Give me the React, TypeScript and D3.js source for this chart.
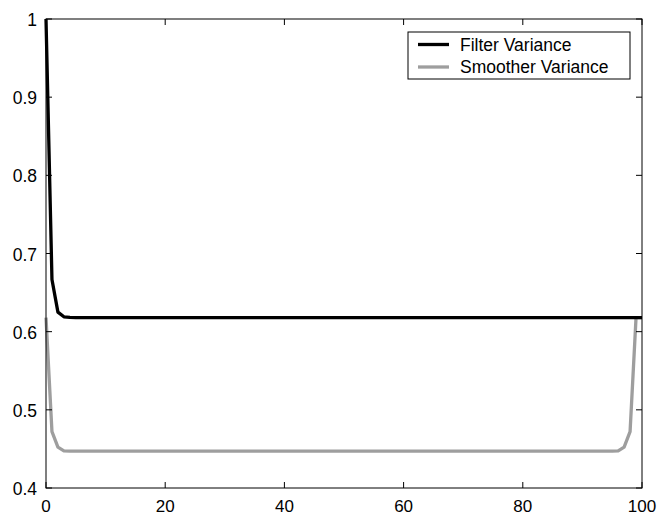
import React from "react";
import * as d3 from "d3";

const xTicks = [0, 20, 40, 60, 80, 100];
const yTicks = [0.4, 0.5, 0.6, 0.7, 0.8, 0.9, 1];
const yTickLabels = ["0.4", "0.5", "0.6", "0.7", "0.8", "0.9", "1"];
const seriesNames = ["Filter Variance", "Smoother Variance"];

const filterVariance = [
  1, 0.6667, 0.625, 0.619, 0.6182, 0.618, 0.618, 0.618, 0.618, 0.618,
  0.618, 0.618, 0.618, 0.618, 0.618, 0.618, 0.618, 0.618, 0.618, 0.618,
  0.618, 0.618, 0.618, 0.618, 0.618, 0.618, 0.618, 0.618, 0.618, 0.618,
  0.618, 0.618, 0.618, 0.618, 0.618, 0.618, 0.618, 0.618, 0.618, 0.618,
  0.618, 0.618, 0.618, 0.618, 0.618, 0.618, 0.618, 0.618, 0.618, 0.618,
  0.618, 0.618, 0.618, 0.618, 0.618, 0.618, 0.618, 0.618, 0.618, 0.618,
  0.618, 0.618, 0.618, 0.618, 0.618, 0.618, 0.618, 0.618, 0.618, 0.618,
  0.618, 0.618, 0.618, 0.618, 0.618, 0.618, 0.618, 0.618, 0.618, 0.618,
  0.618, 0.618, 0.618, 0.618, 0.618, 0.618, 0.618, 0.618, 0.618, 0.618,
  0.618, 0.618, 0.618, 0.618, 0.618, 0.618, 0.618, 0.618, 0.618, 0.618,
  0.618,
];

const smootherVariance = [
  0.618, 0.4722, 0.4524, 0.4476, 0.4473, 0.4472, 0.4472, 0.4472, 0.4472, 0.4472,
  0.4472, 0.4472, 0.4472, 0.4472, 0.4472, 0.4472, 0.4472, 0.4472, 0.4472, 0.4472,
  0.4472, 0.4472, 0.4472, 0.4472, 0.4472, 0.4472, 0.4472, 0.4472, 0.4472, 0.4472,
  0.4472, 0.4472, 0.4472, 0.4472, 0.4472, 0.4472, 0.4472, 0.4472, 0.4472, 0.4472,
  0.4472, 0.4472, 0.4472, 0.4472, 0.4472, 0.4472, 0.4472, 0.4472, 0.4472, 0.4472,
  0.4472, 0.4472, 0.4472, 0.4472, 0.4472, 0.4472, 0.4472, 0.4472, 0.4472, 0.4472,
  0.4472, 0.4472, 0.4472, 0.4472, 0.4472, 0.4472, 0.4472, 0.4472, 0.4472, 0.4472,
  0.4472, 0.4472, 0.4472, 0.4472, 0.4472, 0.4472, 0.4472, 0.4472, 0.4472, 0.4472,
  0.4472, 0.4472, 0.4472, 0.4472, 0.4472, 0.4472, 0.4472, 0.4472, 0.4472, 0.4472,
  0.4472, 0.4472, 0.4472, 0.4472, 0.4472, 0.4473, 0.4476, 0.4524, 0.4722, 0.618,
  0.618,
];

const W = 658;
const H = 516;
const M = { left: 46, right: 16, top: 19, bottom: 28 };
const FONT = "'Liberation Sans', Arial, Helvetica, sans-serif";

export default function App() {
  const x = d3.scaleLinear().domain([0, 100]).range([M.left, W - M.right]);
  const y = d3.scaleLinear().domain([0.4, 1]).range([H - M.bottom, M.top]);
  const line = d3
    .line<number>()
    .x((_, i) => x(i))
    .y((d) => y(d));

  const x0 = x(0), x1 = x(100), y0 = y(0.4), y1 = y(1);
  const tl = 6;
  const colors = ["#000000", "#9e9e9e"];

  return (
    <svg
      width={W}
      height={H}
      style={{ position: "absolute", left: 0, top: 0, background: "#fff" }}
      fontFamily={FONT}
    >
      <rect x={0} y={0} width={W} height={H} fill="#fff" />
      <defs>
        <clipPath id="clip">
          <rect x={x0 - 2} y={y1 - 2} width={x1 - x0 + 4} height={y0 - y1 + 4} />
        </clipPath>
      </defs>
      <g clipPath="url(#clip)">
        <path d={line(smootherVariance) || ""} fill="none" stroke={colors[1]} strokeWidth={3.3} strokeLinejoin="round" />
        <path d={line(filterVariance) || ""} fill="none" stroke={colors[0]} strokeWidth={3.3} strokeLinejoin="round" />
      </g>
      <rect x={x0} y={y1} width={x1 - x0} height={y0 - y1} fill="none" stroke="#000" strokeWidth={1} />
      {xTicks.map((t) => (
        <g key={"x" + t}>
          <line x1={x(t)} x2={x(t)} y1={y0} y2={y0 - tl} stroke="#000" />
          <line x1={x(t)} x2={x(t)} y1={y1} y2={y1 + tl} stroke="#000" />
          <text x={x(t)} y={y0 + 23.5} textAnchor="middle" fontSize={17}>
            {t}
          </text>
        </g>
      ))}
      {yTicks.map((t, i) => (
        <g key={"y" + t}>
          <line x1={x0} x2={x0 + tl} y1={y(t)} y2={y(t)} stroke="#000" />
          <line x1={x1} x2={x1 - tl} y1={y(t)} y2={y(t)} stroke="#000" />
          <text x={x0 - 9} y={y(t) + 7} textAnchor="end" fontSize={17.5}>
            {yTickLabels[i]}
          </text>
        </g>
      ))}
      <g>
        <rect x={408} y={32} width={222} height={47} fill="#fff" stroke="#000" strokeWidth={1} />
        {seriesNames.map((n, i) => (
          <g key={n}>
            <line x1={418} x2={449} y1={44.5 + i * 22.5} y2={44.5 + i * 22.5} stroke={colors[i]} strokeWidth={3.3} />
            <text x={460} y={51 + i * 22} fontSize={17.5}>
              {n}
            </text>
          </g>
        ))}
      </g>
    </svg>
  );
}
